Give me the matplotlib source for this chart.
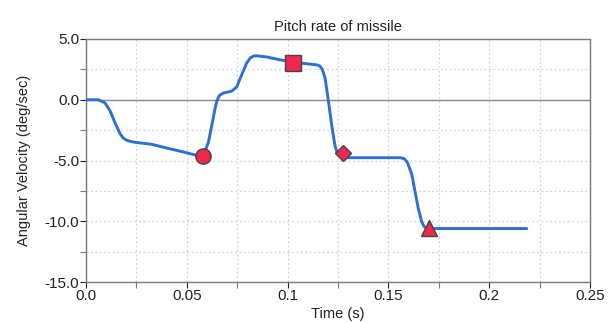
import matplotlib.pyplot as plt
from matplotlib.ticker import MultipleLocator, FixedLocator, FixedFormatter

# Pitch rate trace
time_s = [0.0, 0.006, 0.0094, 0.0119, 0.0144, 0.0169, 0.0185, 0.0200, 0.0220,
          0.0243, 0.0327, 0.0407, 0.0491, 0.055, 0.058, 0.0607, 0.0624, 0.064,
          0.0650, 0.0662, 0.0681, 0.0723, 0.0748, 0.0772, 0.0797, 0.0815,
          0.0832, 0.0847, 0.0896, 0.0962, 0.1028, 0.1095, 0.1144, 0.1160,
          0.1172, 0.1186, 0.1202, 0.1219, 0.1235, 0.1248, 0.1262, 0.1285,
          0.1560, 0.1578, 0.1594, 0.1616, 0.1632, 0.1648, 0.1665, 0.1678,
          0.1692, 0.1710, 0.2186]
rate = [0.0, 0.0, -0.25, -0.9, -1.9, -2.8, -3.15, -3.32, -3.43,
        -3.5, -3.67, -4.0, -4.33, -4.58, -4.67, -3.52, -2.12, -0.73,
        -0.05, 0.35, 0.55, 0.71, 1.07, 2.04, 3.02, 3.45,
        3.6, 3.62, 3.52, 3.29, 3.1, 2.96, 2.87, 2.78,
        2.5, 1.77, -0.04, -2.12, -3.79, -4.45, -4.7, -4.77,
        -4.77, -4.85, -5.15, -6.15, -7.54, -8.93, -10.04, -10.45,
        -10.58, -10.6, -10.6]

# event markers
circle_pt = (0.058, -4.67)
square_pt = (0.1028, 3.05)
diamond_pt = (0.1276, -4.4)
triangle_pt = (0.170, -10.55)

x_ticks = [0.0, 0.05, 0.1, 0.15, 0.2, 0.25]
x_labels = ["0.0", "0.05", "0.1", "0.15", "0.2", "0.25"]
y_ticks = [5.0, 0.0, -5.0, -10.0, -15.0]
y_labels = ["5.0", "0.0", "-5.0", "-10.0", "-15.0"]

plt.rcParams["font.family"] = ["Liberation Sans", "DejaVu Sans"]

fig = plt.figure(figsize=(6.13, 3.22), dpi=100)
ax = fig.add_axes([86 / 613, 40 / 322, 504 / 613, 243 / 322])

grid_color = "#c9d2f2"
ax.xaxis.set_major_locator(FixedLocator(x_ticks))
ax.xaxis.set_major_formatter(FixedFormatter(x_labels))
ax.xaxis.set_minor_locator(MultipleLocator(0.025))
ax.yaxis.set_major_locator(FixedLocator(y_ticks))
ax.yaxis.set_major_formatter(FixedFormatter(y_labels))
ax.yaxis.set_minor_locator(MultipleLocator(2.5))
ax.grid(True, which="both", color=grid_color, linestyle=(0, (1.5, 2)), linewidth=0.9)
ax.set_axisbelow(True)

ax.axhline(0, color="#8a8a8a", linewidth=1.0, zorder=1)

line_color = "#2f6fd2"
ax.plot(time_s, rate, color=line_color, linewidth=2.1, zorder=3,
        solid_joinstyle="round", solid_capstyle="round")

red = "#f0284c"
edge = "#454545"
ax.plot(*circle_pt, "o", color=red, markersize=11, markeredgecolor=edge, markeredgewidth=1.0, zorder=4)
ax.plot(*square_pt, "s", color=red, markersize=11, markeredgecolor=edge, markeredgewidth=1.0, zorder=4)
ax.plot(*diamond_pt, "D", color=red, markersize=8, markeredgecolor=edge, markeredgewidth=1.0, zorder=4)
ax.plot(*triangle_pt, "^", color=red, markersize=11, markeredgecolor=edge, markeredgewidth=1.0, zorder=4)

ax.set_xlim(0, 0.25)
ax.set_ylim(-15, 5)

for s in ax.spines.values():
    s.set_color("#7a7a7a")
    s.set_linewidth(1.0)
ax.tick_params(which="both", direction="out", color="#7a7a7a", length=4, width=0.8)
ax.tick_params(which="major", labelsize=11, pad=1, colors="#222222")
ax.tick_params(axis="x", which="major", pad=1)

ax.set_title("Pitch rate of missile", fontsize=10.5, color="#222222", pad=6)
ax.set_xlabel("Time (s)", fontsize=10.5, color="#222222", labelpad=3)
ax.set_ylabel("Angular Velocity (deg/sec)", fontsize=10.5, color="#222222", labelpad=10)

fig.savefig("out.png", dpi=100)
